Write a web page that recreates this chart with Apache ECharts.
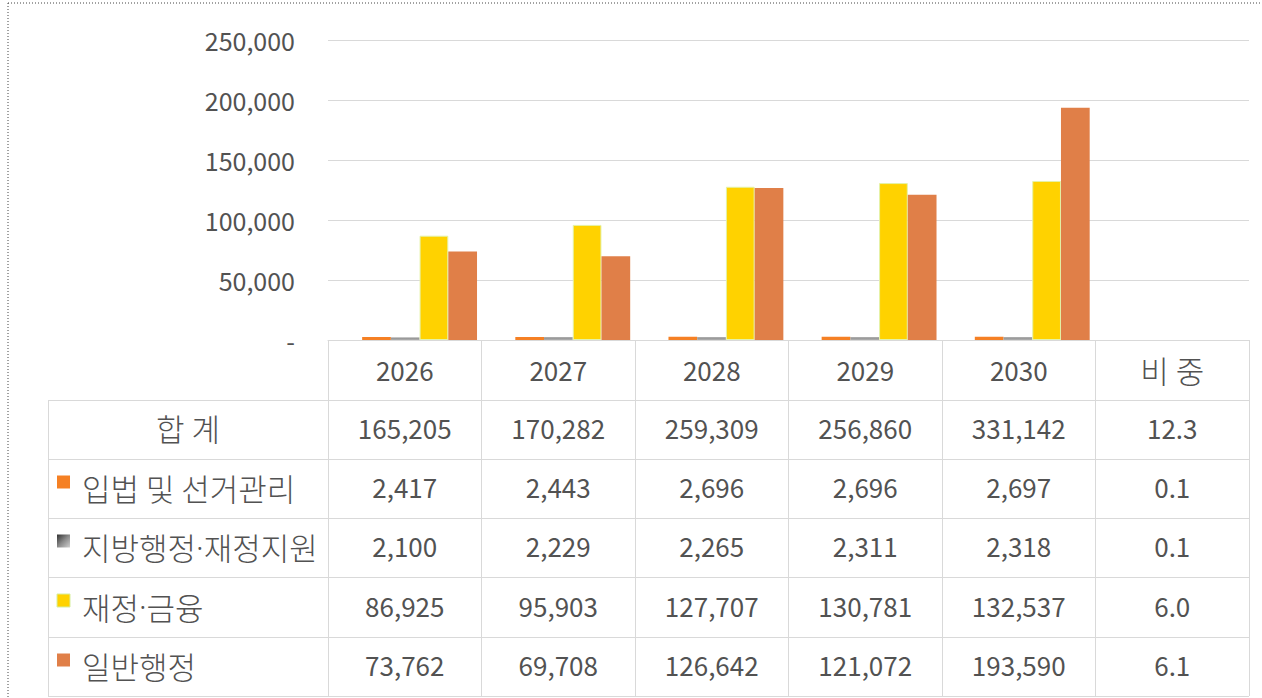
<!DOCTYPE html>
<html>
<head>
<meta charset="utf-8">
<script src="https://cdn.jsdelivr.net/npm/echarts@6/dist/echarts.min.js"></script>
<style>
html,body{margin:0;padding:0;background:#fff;}
#c{width:1262px;height:698px;}
</style>
</head>
<body>
<div id="c"></div>
<script>
// ---- data ----
const categories = ['2026', '2027', '2028', '2029', '2030', '비 중'];
const seriesNames = ['입법 및 선거관리', '지방행정·재정지원', '재정·금융', '일반행정'];
const legislation = [2417, 2443, 2696, 2696, 2697];
const localAdmin = [2100, 2229, 2265, 2311, 2318];
const finance = [86925, 95903, 127707, 130781, 132537];
const generalAdmin = [73762, 69708, 126642, 121072, 193590];
const totals = [165205, 170282, 259309, 256860, 331142];
const totalLabel = '합 계';
const ratioTotal = '12.3';
const ratios = ['0.1', '0.1', '6.0', '6.1'];

// ---- styles ----
const TXT = '#525252';
const LINE = '#d9d9d9';
const FONT = '"Noto Sans CJK KR", "Noto Sans", sans-serif';
const FS = 25;      // axis digits
const TFS = 26;     // table digits
const KFS = 31;     // hangul
const colors = ['#F58024', '#9E9E9E', '#FFD200', '#E07F48'];

const seriesValues = [legislation, localAdmin, finance, generalAdmin];
const fmt = v => v.toLocaleString('en-US');
const isHangul = s => /[\uAC00-\uD7A3]/.test(s);

// rich-text markup: middle dot rendered narrow (Latin font)
const richStyles = {
  k: {fontSize: KFS, fontFamily: FONT, fontWeight: 300, color: TXT},
  d: {fontSize: KFS, fontFamily: '"Noto Sans", sans-serif', fontWeight: 300, color: TXT}
};
const toRich = s => s.split('·').map(p => '{k|' + p + '}').join('{d|·}');

const chart = echarts.init(document.getElementById('c'), null, {renderer: 'svg'});

const series = seriesValues.map((vals, i) => ({
  name: seriesNames[i],
  type: 'bar',
  xAxisIndex: 1,
  yAxisIndex: 1,
  data: vals.concat([null]),
  barGap: '0%',
  barCategoryGap: '25%',
  itemStyle: i === 2 ? {color: colors[i], borderColor: '#E4F2A8', borderWidth: 1}
                     : (i === 1 ? {color: new echarts.graphic.LinearGradient(0,0,0,1,[{offset:0,color:'#8a8a8a'},{offset:1,color:'#b0b0b0'}])} : {color: colors[i]}),
  animation: false
}));

chart.setOption({
  animation: false,
  grid: [
    {left: 328, top: 40, width: 921, height: 300},
    {left: 343, top: 40, width: 921, height: 300}
  ],
  xAxis: [
    {
      type: 'category', gridIndex: 0, data: categories,
      axisLine: {show: true, lineStyle: {color: LINE, width: 1}},
      axisTick: {show: true, interval: 0, length: 356, lineStyle: {color: LINE, width: 1}},
      axisLabel: {color: TXT, fontSize: TFS, fontFamily: FONT, margin: 29, verticalAlign: 'middle', interval: 0,
        formatter: v => (isHangul(v) ? toRich(v) : v), rich: richStyles},
      splitLine: {show: false}
    },
    {
      type: 'category', gridIndex: 1, data: categories, show: false
    }
  ],
  yAxis: [
    {
      type: 'value', gridIndex: 0, min: 0, max: 250000, interval: 50000,
      axisLine: {show: false}, axisTick: {show: false},
      axisLabel: {color: TXT, fontSize: FS, fontFamily: FONT, margin: 33,
        formatter: v => (v === 0 ? '-' : fmt(v))},
      splitLine: {show: true, lineStyle: {color: LINE, width: 1}}
    },
    {
      type: 'value', gridIndex: 1, min: 0, max: 250000, interval: 50000, show: false,
      splitLine: {show: false}
    }
  ],
  series: series
});

// ---- data table drawn under the axis ----
const rowLines = [400, 459, 518, 577, 637, 696];
const tableLeft = 48, tableRight = 1249;
const colX = categories.map(c => chart.convertToPixel({xAxisIndex: 0}, c));
const g = [];

// frame dotted lines
g.push({type: 'line', shape: {x1: 8, y1: 3, x2: 1262, y2: 3}, style: {stroke: '#444', lineWidth: 1, lineDash: [1, 2]}, silent: true});
g.push({type: 'line', shape: {x1: 8, y1: 3, x2: 8, y2: 698}, style: {stroke: '#444', lineWidth: 1, lineDash: [1, 2]}, silent: true});

// horizontal lines
rowLines.forEach(y => g.push({type: 'line', shape: {x1: tableLeft, y1: y + 0.5, x2: tableRight, y2: y + 0.5}, style: {stroke: LINE, lineWidth: 1}, silent: true}));
g.push({type: 'line', shape: {x1: tableLeft + 0.5, y1: rowLines[0], x2: tableLeft + 0.5, y2: rowLines[rowLines.length - 1]}, style: {stroke: LINE, lineWidth: 1}, silent: true});

function txt(s, x, y, align) {
  if (isHangul(s)) {
    g.push({type: 'text', x: x, y: y, silent: true,
      style: {text: toRich(s), rich: richStyles, fill: TXT, fontSize: KFS, fontFamily: FONT, align: align || 'center', verticalAlign: 'middle'}});
  } else {
    g.push({type: 'text', x: x, y: y, silent: true,
      style: {text: s, fill: TXT, fontSize: TFS, fontFamily: FONT, align: align || 'center', verticalAlign: 'middle'}});
  }
}

const rows = [{label: totalLabel, vals: totals, ratio: ratioTotal, key: null}]
  .concat(seriesNames.map((n, i) => ({label: n, vals: seriesValues[i], ratio: ratios[i], key: i})));

rows.forEach((r, ri) => {
  const yc = (rowLines[ri] + rowLines[ri + 1]) / 2;
  if (r.key === null) {
    txt(r.label, 188, yc - 2);
  } else {
    let fill = colors[r.key];
    if (r.key === 1) fill = new echarts.graphic.LinearGradient(0, 0, 1, 1, [{offset: 0, color: '#303030'}, {offset: 0.5, color: '#8a8a8a'}, {offset: 1, color: '#d0d0d0'}]);
    g.push({type: 'rect', shape: {x: 57, y: yc - 13, width: 13, height: 13}, silent: true,
      style: {fill: fill, stroke: r.key === 2 ? '#D7EFA0' : null, lineWidth: 1}});
    txt(r.label, 82, yc - 1, 'left');
  }
  r.vals.forEach((v, ci) => txt(fmt(v), colX[ci], yc - 2));
  txt(r.ratio, colX[categories.length - 1], yc - 2);
});

chart.setOption({graphic: g});
</script>
</body>
</html>
